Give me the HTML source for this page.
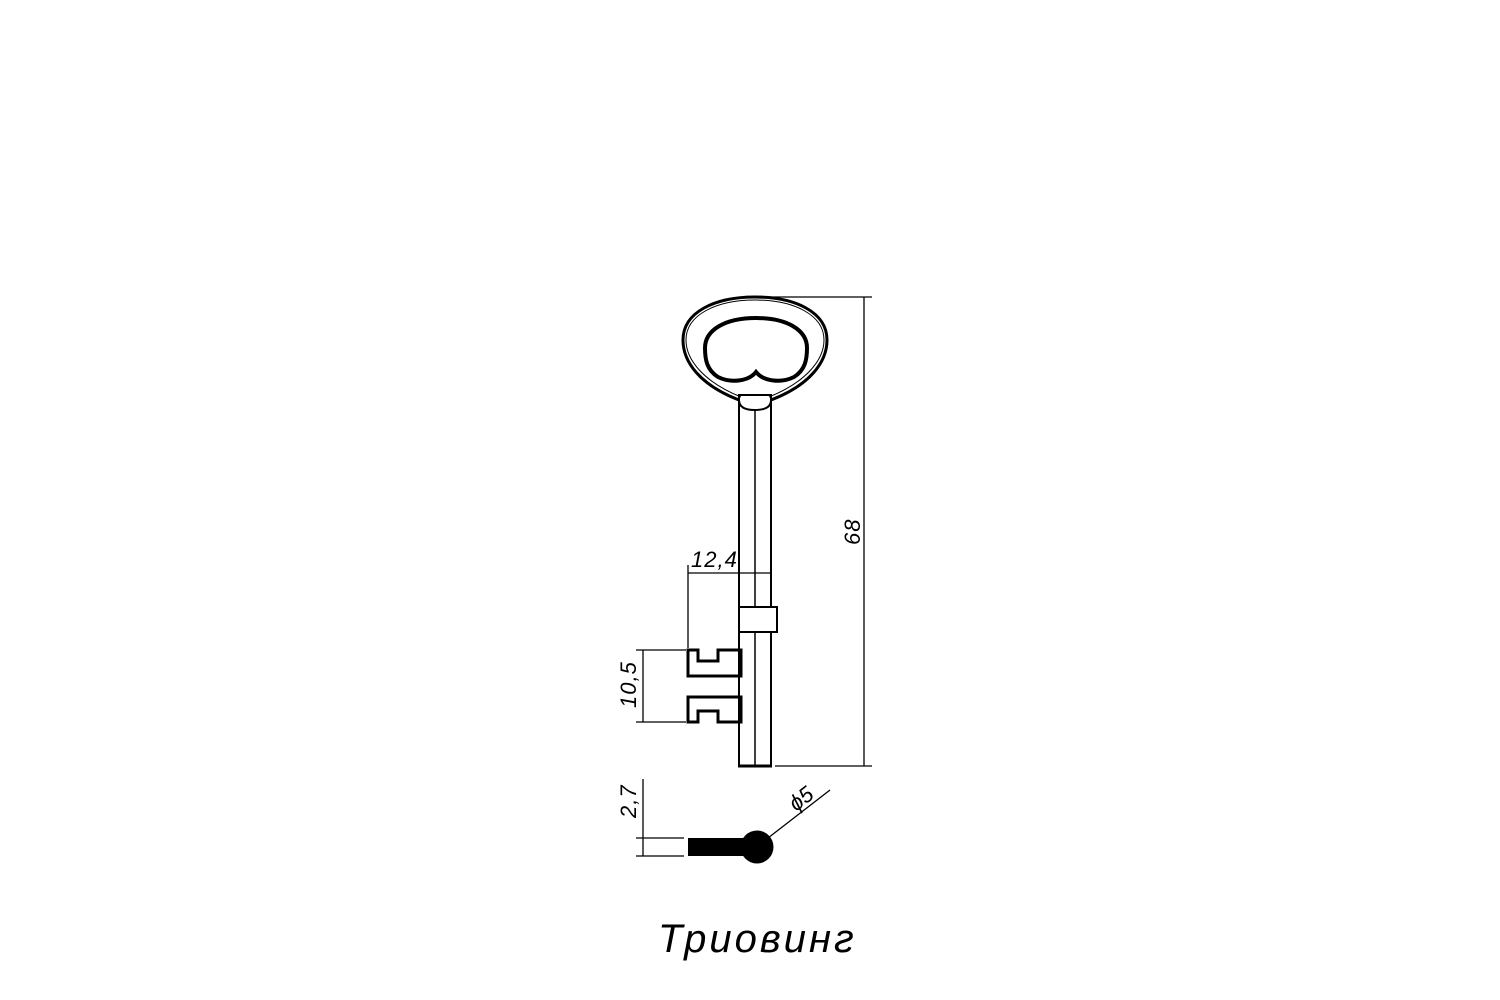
<!DOCTYPE html>
<html><head><style>body{margin:0;background:#fff}svg{display:block}</style></head><body>
<svg width="1500" height="1000" viewBox="0 0 1500 1000" xmlns="http://www.w3.org/2000/svg" font-family="Liberation Sans, DejaVu Sans, sans-serif" font-style="italic">
<g fill="none" stroke="#000" stroke-width="2">
<!-- bow -->
<path d="M739,400 C700,385 683,362 683,340 C683,312 715,297 755,297 C795,297 827,312 827,340 C827,362 810,385 771,400" stroke-width="3"/>
<path d="M741,397 C704,382 686,360 686,340 C686,315 716,300 755,300 C794,300 824,315 824,340 C824,360 806,382 769,397" stroke-width="1"/>
<path d="M756,372 C748,382 730,383 718,377 C707,370 705,360 705,348 C705,330 725,318 756,318 C787,318 807,330 807,348 C807,360 805,370 794,377 C782,383 764,382 756,372 Z" stroke-width="4"/>
<!-- neck -->
<path d="M739,395 L771,395 L771,400 C771,407 765,410 755,410 C745,410 739,407 739,400 Z"/>
<!-- shaft -->
<line x1="739" y1="400" x2="739" y2="766"/>
<line x1="771" y1="400" x2="771" y2="766"/>
<line x1="755" y1="410" x2="755" y2="766" stroke-width="1.5"/>
<line x1="738" y1="766" x2="772" y2="766" stroke-width="3"/>
<rect x="739" y="607" width="38" height="25" fill="#fff"/>
<!-- bits -->
<path d="M688,650 L698,650 L698,661 L718,661 L718,650 L741,650 L741,676 L688,676 Z" stroke-width="3"/>
<path d="M688,697 L741,697 L741,722 L718,722 L718,711 L698,711 L698,722 L688,722 Z" stroke-width="3"/>
</g>
<g fill="none" stroke="#000" stroke-width="1.3">
<line x1="758" y1="297" x2="872" y2="297"/>
<line x1="775" y1="766" x2="872" y2="766"/>
<line x1="864" y1="297" x2="864" y2="766"/>
<line x1="688" y1="573" x2="772" y2="573"/>
<line x1="688" y1="565" x2="688" y2="648"/>
<line x1="636" y1="650" x2="686" y2="650"/>
<line x1="636" y1="722" x2="686" y2="722"/>
<line x1="643" y1="650" x2="643" y2="722"/>
<line x1="643" y1="779" x2="643" y2="856"/>
<line x1="636" y1="838" x2="684" y2="838"/>
<line x1="636" y1="856" x2="684" y2="856"/>
<line x1="768" y1="838" x2="830" y2="790"/>
</g>
<rect x="688" y="838" width="60" height="18" fill="#000"/>
<circle cx="757" cy="847" r="16.5" fill="#000"/>
<g font-size="22" fill="#000">
<text x="691" y="567" letter-spacing="1">12,4</text>
<text transform="translate(860,545) rotate(-90)" letter-spacing="1">68</text>
<text transform="translate(636,708) rotate(-90)" letter-spacing="1">10,5</text>
<text transform="translate(636,818) rotate(-90)" letter-spacing="1">2,7</text>
<text transform="translate(796,812) rotate(-38)">ϕ5</text>
</g>
<text x="658" y="952" font-size="40" fill="#000" letter-spacing="3">Триовинг</text>
</svg>
</body></html>
